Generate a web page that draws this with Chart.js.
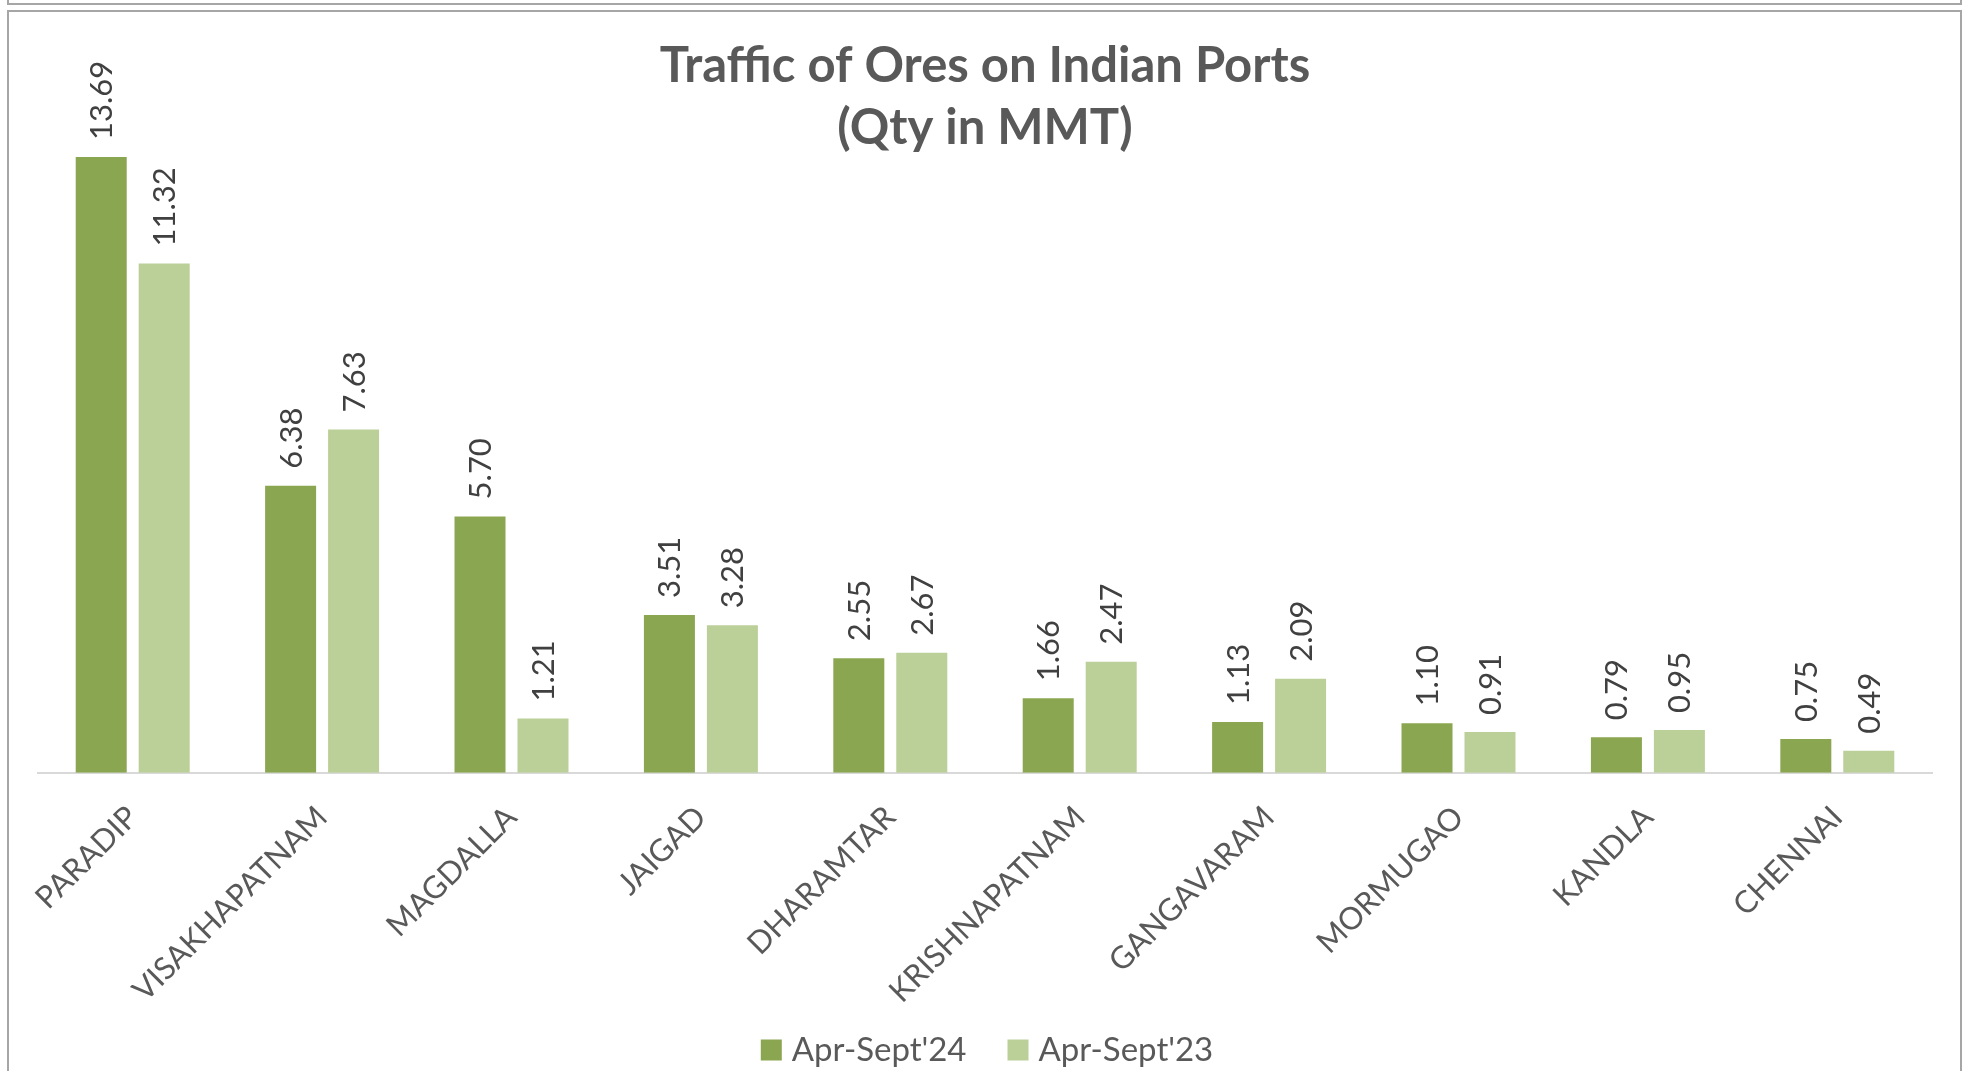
<!DOCTYPE html>
<html>
<head>
<meta charset="utf-8">
<script src="https://cdn.jsdelivr.net/npm/chart.js@4.4.1/dist/chart.umd.min.js"></script>
<style>
  html, body { margin: 0; padding: 0; background: #ffffff; }
  body { width: 1975px; height: 1071px; position: relative; overflow: hidden; }
  #topbox { position: absolute; left: 7px; top: -20px; width: 1951px; height: 21px; border: 2px solid #a6a6a6; }
  #chartbox { position: absolute; left: 7px; top: 10px; width: 1951px; height: 1100px; border: 2px solid #a6a6a6; }
  #wrap { position: absolute; left: 0; top: 0; width: 1975px; height: 1071px; }
  canvas { display: block; }
</style>
</head>
<body>
<div id="topbox"></div>
<div id="chartbox"></div>
<div id="wrap"><canvas id="c" width="1975" height="1071" style="width:1975px;height:1071px"></canvas></div>
<script>
const ports = ["PARADIP", "VISAKHAPATNAM", "MAGDALLA", "JAIGAD", "DHARAMTAR", "KRISHNAPATNAM", "GANGAVARAM", "MORMUGAO", "KANDLA", "CHENNAI"];
const apr24 = [13.69, 6.38, 5.70, 3.51, 2.55, 1.66, 1.13, 1.10, 0.79, 0.75];
const apr23 = [11.32, 7.63, 1.21, 3.28, 2.67, 2.47, 2.09, 0.91, 0.95, 0.49];
const seriesNames = ["Apr-Sept'24", "Apr-Sept'23"];
const titleLines = ["Traffic of Ores on Indian Ports", "(Qty in MMT)"];

const TEXT = '#595959';
const FONT = 'Lato';

const barLabels = {
  id: 'barLabels',
  afterDatasetsDraw(chart) {
    const ctx = chart.ctx;
    ctx.save();
    ctx.font = '31px ' + FONT;
    ctx.fillStyle = '#404040';
    ctx.textAlign = 'left';
    ctx.textBaseline = 'middle';
    chart.data.datasets.forEach((ds, i) => {
      const meta = chart.getDatasetMeta(i);
      meta.data.forEach((bar, j) => {
        ctx.save();
        ctx.translate(bar.x + 1, bar.y - 17);
        ctx.rotate(-Math.PI / 2);
        ctx.fillText(ds.data[j].toFixed(2), 0, 0);
        ctx.restore();
      });
    });
    ctx.restore();
  }
};

const titleAndLegend = {
  id: 'titleAndLegend',
  afterDraw(chart) {
    const ctx = chart.ctx;
    ctx.save();
    ctx.fillStyle = TEXT;
    ctx.textAlign = 'center';
    ctx.textBaseline = 'alphabetic';
    ctx.font = 'bold 49px ' + FONT;
    ctx.fillText(titleLines[0], 985, 82);
    ctx.fillText(titleLines[1], 985, 144);

    ctx.font = '33px ' + FONT;
    ctx.textAlign = 'left';
    const box = 21, gapText = 10, gapItem = 41;
    const widths = chart.data.datasets.map(d => box + gapText + ctx.measureText(d.label).width);
    const total = widths.reduce((a, b) => a + b, 0) + gapItem * (widths.length - 1);
    let x = 987 - total / 2;
    const yc = 1050;
    chart.data.datasets.forEach((d, i) => {
      ctx.fillStyle = d.backgroundColor;
      ctx.fillRect(x, yc - box / 2, box, box);
      ctx.fillStyle = TEXT;
      ctx.fillText(d.label, x + box + gapText, yc + 11);
      x += widths[i] + gapItem;
    });
    ctx.restore();
  }
};

new Chart(document.getElementById('c'), {
  type: 'bar',
  data: {
    labels: ports,
    datasets: [
      { label: seriesNames[0], data: apr24, backgroundColor: '#8ba651' },
      { label: seriesNames[1], data: apr23, backgroundColor: '#bbcf99' }
    ]
  },
  options: {
    responsive: false,
    animation: false,
    devicePixelRatio: 1,
    layout: { padding: { top: 143, left: 38, right: 43, bottom: 43 } },
    plugins: { legend: { display: false }, title: { display: false }, tooltip: { enabled: false } },
    datasets: { bar: { categoryPercentage: 0.665, barPercentage: 0.81 } },
    scales: {
      y: { display: false, min: 0, max: 14 },
      x: {
        grid: { display: false },
        border: { display: true, color: '#d9d9d9', width: 2 },
        ticks: { color: TEXT, font: { family: FONT, size: 31 }, minRotation: 45, maxRotation: 45, padding: 18, autoSkip: false }
      }
    }
  },
  plugins: [barLabels, titleAndLegend]
});
</script>
</body>
</html>
